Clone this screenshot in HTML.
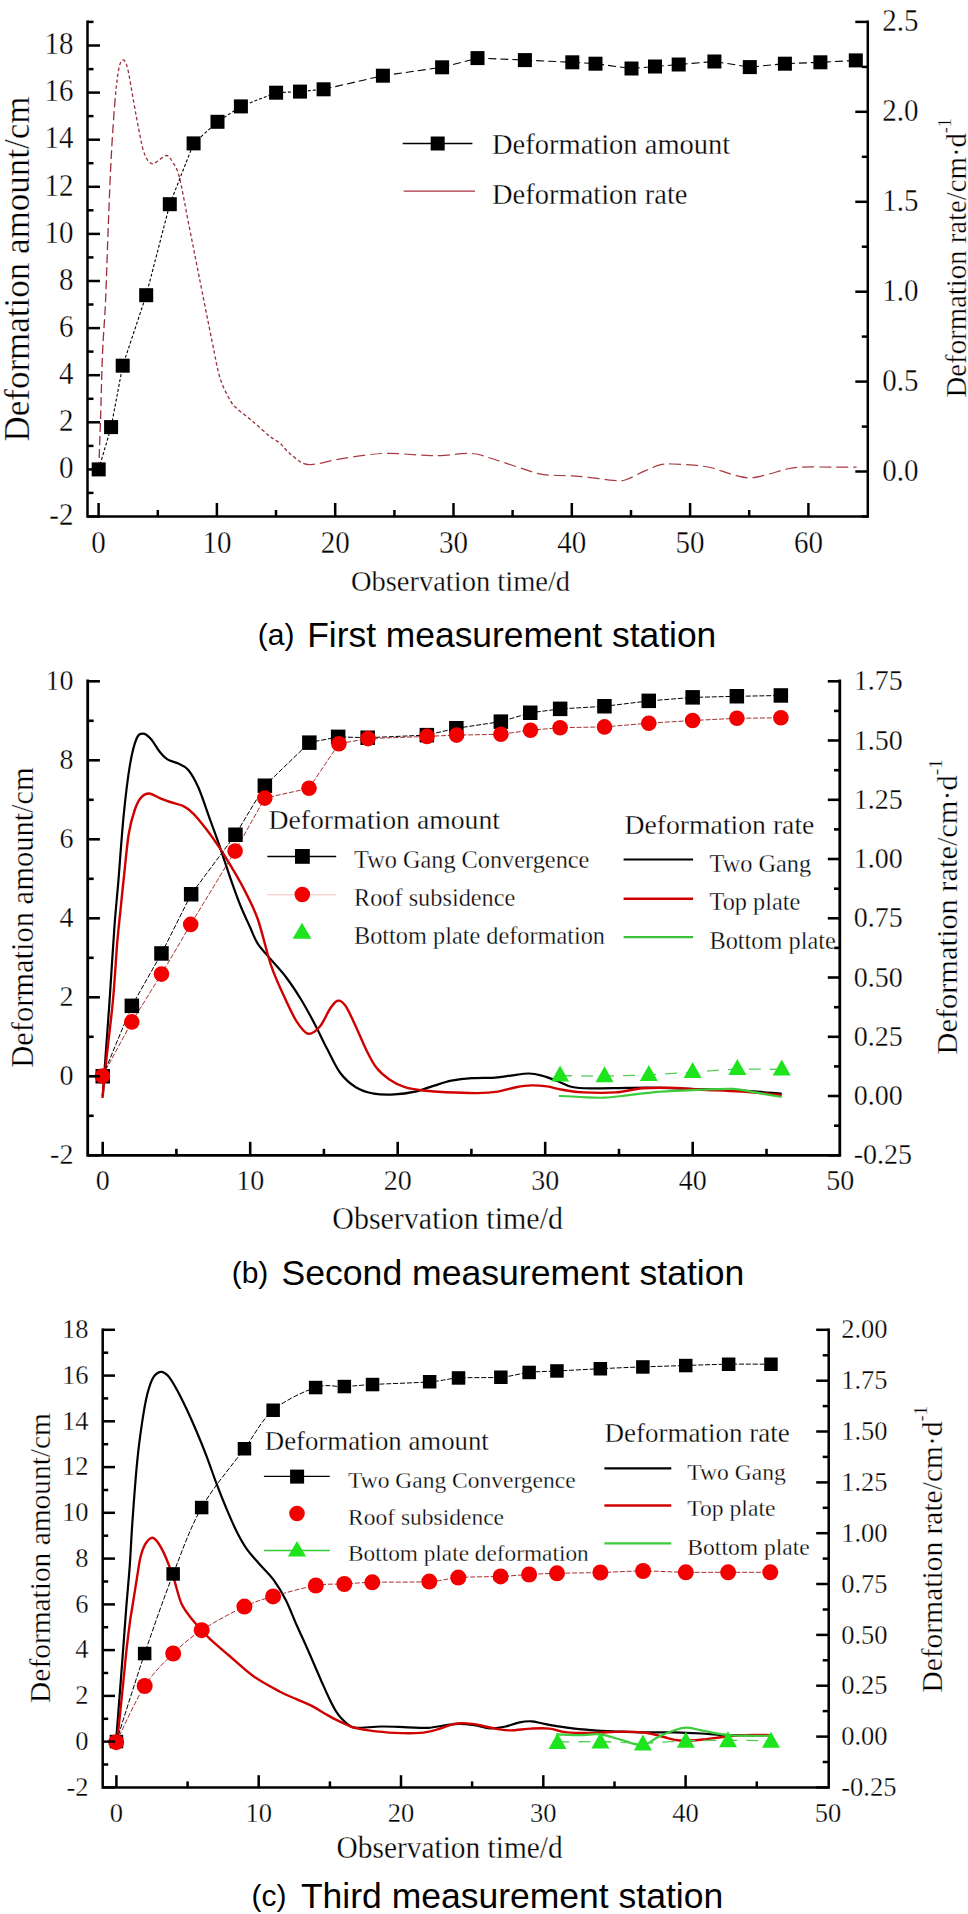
<!DOCTYPE html>
<html><head><meta charset="utf-8"><style>html,body{margin:0;padding:0;background:#fff;}svg{display:block}text.t{stroke:#fff;stroke-width:0.3px;}</style></head>
<body><svg width="968" height="1914" viewBox="0 0 968 1914">
<rect width="968" height="1914" fill="#fff"/>
<path d="M98.7,471.0 C99.0,462.5 99.9,439.5 100.5,420.0 C101.1,400.5 101.7,374.0 102.5,354.0 C103.3,334.0 104.6,322.3 105.6,300.0 C106.6,277.7 107.5,244.7 108.5,220.0 C109.5,195.3 110.3,172.8 111.5,152.0 C112.7,131.2 114.2,109.0 115.5,95.0" fill="none" stroke="#9a3039" stroke-width="1.30" stroke-dasharray="9,4" stroke-linejoin="round" />
<path d="M115.5,95.0 C116.8,81.0 117.8,73.8 119.0,68.0 C120.2,62.2 121.6,60.0 123.0,60.0 C124.4,60.0 125.7,60.9 127.5,68.0 C129.3,75.1 132.0,92.6 133.8,102.6 C135.6,112.6 137.0,120.3 138.5,128.0 C140.0,135.7 141.4,143.7 142.9,149.0 C144.4,154.3 145.8,157.5 147.5,160.0 C149.2,162.5 150.9,163.8 152.8,163.8 C154.7,163.8 156.7,161.4 159.0,160.0 C161.3,158.6 164.7,155.2 166.9,155.5 C169.2,155.8 170.4,158.4 172.5,162.0 C174.6,165.6 176.5,166.2 179.3,177.0 C182.1,187.8 185.9,210.1 189.2,226.6 C192.5,243.1 195.2,256.9 199.0,276.0 C202.8,295.1 208.5,323.9 212.0,341.0 C215.5,358.1 217.1,368.5 220.2,378.5 C223.3,388.5 227.8,396.0 230.6,401.0 C233.4,406.0 233.0,405.0 236.8,408.5 C240.6,412.0 247.8,417.2 253.3,421.9 C258.8,426.5 265.4,432.8 269.8,436.4 C274.2,439.9 277.0,440.6 280.0,443.2 C283.0,445.8 284.1,448.5 288.0,451.9 C291.9,455.3 298.6,461.4 303.2,463.4" fill="none" stroke="#9a3039" stroke-width="1.30" stroke-dasharray="3.5,2.5" stroke-linejoin="round" />
<path d="M303.2,463.4 C307.8,465.4 309.1,464.8 315.6,464.0 C322.1,463.2 330.9,460.4 342.0,458.7 C353.1,456.9 369.4,454.1 382.3,453.5 C395.2,452.9 409.7,454.6 419.5,455.0 C429.3,455.4 432.2,455.9 441.0,455.6 C449.8,455.4 462.7,452.7 472.0,453.5 C481.3,454.3 486.1,457.0 497.0,460.3 C507.9,463.6 527.9,470.8 537.2,473.3 C546.5,475.8 547.2,474.8 552.7,475.2 C558.2,475.6 564.0,475.4 570.0,475.8 C576.0,476.2 581.4,476.5 588.6,477.3 C595.8,478.1 607.2,480.0 613.4,480.4 C619.6,480.8 620.6,481.4 625.8,479.8 C631.0,478.2 638.7,473.6 644.4,471.1 C650.1,468.6 655.2,466.1 659.9,464.9 C664.5,463.7 666.6,463.9 672.3,464.0 C678.0,464.1 687.3,464.5 694.0,465.2 C700.7,465.9 706.3,466.5 712.5,468.0 C718.7,469.5 724.9,472.6 731.1,474.2 C737.3,475.8 743.5,477.9 749.7,477.9 C755.9,477.9 762.1,475.7 768.3,474.2 C774.5,472.7 781.2,470.2 786.9,469.0 C792.6,467.8 794.6,467.4 802.4,467.1 C810.1,466.8 824.4,467.1 833.4,467.1 C842.4,467.1 852.7,467.1 856.6,467.1" fill="none" stroke="#a83a40" stroke-width="1.20" stroke-dasharray="12,5" stroke-linejoin="round" />
<path d="M98.7,469.4 L111.1,427.1 L122.7,365.7 L146.2,295.2 L169.8,204.2 L193.6,143.4 L217.5,121.8 L240.9,106.4 L276.1,92.7 L300.0,91.6 L323.6,89.3" fill="none" stroke="#000" stroke-width="1.10" stroke-dasharray="3,2" stroke-linejoin="round" />
<path d="M323.6,89.3 L382.9,75.7 L442.1,67.3 L477.5,58.1 L524.9,60.1 L572.3,62.3 L595.5,63.7 L631.5,68.5 L655.0,66.5 L678.7,64.5 L714.4,61.5 L749.8,67.1 L784.9,63.7 L820.4,62.3 L855.8,60.4" fill="none" stroke="#000" stroke-width="1.10" stroke-dasharray="8,4" stroke-linejoin="round" />
<rect x="91.7" y="462.4" width="14.0" height="14.0" fill="#000"/>
<rect x="104.1" y="420.1" width="14.0" height="14.0" fill="#000"/>
<rect x="115.7" y="358.7" width="14.0" height="14.0" fill="#000"/>
<rect x="139.2" y="288.2" width="14.0" height="14.0" fill="#000"/>
<rect x="162.8" y="197.2" width="14.0" height="14.0" fill="#000"/>
<rect x="186.6" y="136.4" width="14.0" height="14.0" fill="#000"/>
<rect x="210.5" y="114.8" width="14.0" height="14.0" fill="#000"/>
<rect x="233.9" y="99.4" width="14.0" height="14.0" fill="#000"/>
<rect x="269.1" y="85.7" width="14.0" height="14.0" fill="#000"/>
<rect x="293.0" y="84.6" width="14.0" height="14.0" fill="#000"/>
<rect x="316.6" y="82.3" width="14.0" height="14.0" fill="#000"/>
<rect x="375.9" y="68.7" width="14.0" height="14.0" fill="#000"/>
<rect x="435.1" y="60.3" width="14.0" height="14.0" fill="#000"/>
<rect x="470.5" y="51.1" width="14.0" height="14.0" fill="#000"/>
<rect x="517.9" y="53.1" width="14.0" height="14.0" fill="#000"/>
<rect x="565.3" y="55.3" width="14.0" height="14.0" fill="#000"/>
<rect x="588.5" y="56.7" width="14.0" height="14.0" fill="#000"/>
<rect x="624.5" y="61.5" width="14.0" height="14.0" fill="#000"/>
<rect x="648.0" y="59.5" width="14.0" height="14.0" fill="#000"/>
<rect x="671.7" y="57.5" width="14.0" height="14.0" fill="#000"/>
<rect x="707.4" y="54.5" width="14.0" height="14.0" fill="#000"/>
<rect x="742.8" y="60.1" width="14.0" height="14.0" fill="#000"/>
<rect x="777.9" y="56.7" width="14.0" height="14.0" fill="#000"/>
<rect x="813.4" y="55.3" width="14.0" height="14.0" fill="#000"/>
<rect x="848.8" y="53.4" width="14.0" height="14.0" fill="#000"/>
<path d="M87.5,21.8 L87.5,516.5 L867.8,516.5 L867.8,21.8" fill="none" stroke="#000" stroke-width="2.5" stroke-linejoin="miter" stroke-linecap="square"/>
<line x1="87.5" y1="516.5" x2="100.0" y2="516.5" stroke="#000" stroke-width="2.5"/>
<line x1="87.5" y1="492.9" x2="93.5" y2="492.9" stroke="#000" stroke-width="2.5"/>
<line x1="87.5" y1="469.4" x2="100.0" y2="469.4" stroke="#000" stroke-width="2.5"/>
<line x1="87.5" y1="445.9" x2="93.5" y2="445.9" stroke="#000" stroke-width="2.5"/>
<line x1="87.5" y1="422.3" x2="100.0" y2="422.3" stroke="#000" stroke-width="2.5"/>
<line x1="87.5" y1="398.8" x2="93.5" y2="398.8" stroke="#000" stroke-width="2.5"/>
<line x1="87.5" y1="375.2" x2="100.0" y2="375.2" stroke="#000" stroke-width="2.5"/>
<line x1="87.5" y1="351.6" x2="93.5" y2="351.6" stroke="#000" stroke-width="2.5"/>
<line x1="87.5" y1="328.1" x2="100.0" y2="328.1" stroke="#000" stroke-width="2.5"/>
<line x1="87.5" y1="304.5" x2="93.5" y2="304.5" stroke="#000" stroke-width="2.5"/>
<line x1="87.5" y1="281.0" x2="100.0" y2="281.0" stroke="#000" stroke-width="2.5"/>
<line x1="87.5" y1="257.4" x2="93.5" y2="257.4" stroke="#000" stroke-width="2.5"/>
<line x1="87.5" y1="233.9" x2="100.0" y2="233.9" stroke="#000" stroke-width="2.5"/>
<line x1="87.5" y1="210.3" x2="93.5" y2="210.3" stroke="#000" stroke-width="2.5"/>
<line x1="87.5" y1="186.8" x2="100.0" y2="186.8" stroke="#000" stroke-width="2.5"/>
<line x1="87.5" y1="163.2" x2="93.5" y2="163.2" stroke="#000" stroke-width="2.5"/>
<line x1="87.5" y1="139.7" x2="100.0" y2="139.7" stroke="#000" stroke-width="2.5"/>
<line x1="87.5" y1="116.1" x2="93.5" y2="116.1" stroke="#000" stroke-width="2.5"/>
<line x1="87.5" y1="92.6" x2="100.0" y2="92.6" stroke="#000" stroke-width="2.5"/>
<line x1="87.5" y1="69.1" x2="93.5" y2="69.1" stroke="#000" stroke-width="2.5"/>
<line x1="87.5" y1="45.5" x2="100.0" y2="45.5" stroke="#000" stroke-width="2.5"/>
<line x1="87.5" y1="21.9" x2="93.5" y2="21.9" stroke="#000" stroke-width="2.5"/>
<line x1="867.8" y1="516.5" x2="861.8" y2="516.5" stroke="#000" stroke-width="2.5"/>
<line x1="867.8" y1="471.5" x2="855.3" y2="471.5" stroke="#000" stroke-width="2.5"/>
<line x1="867.8" y1="426.6" x2="861.8" y2="426.6" stroke="#000" stroke-width="2.5"/>
<line x1="867.8" y1="381.6" x2="855.3" y2="381.6" stroke="#000" stroke-width="2.5"/>
<line x1="867.8" y1="336.6" x2="861.8" y2="336.6" stroke="#000" stroke-width="2.5"/>
<line x1="867.8" y1="291.7" x2="855.3" y2="291.7" stroke="#000" stroke-width="2.5"/>
<line x1="867.8" y1="246.7" x2="861.8" y2="246.7" stroke="#000" stroke-width="2.5"/>
<line x1="867.8" y1="201.8" x2="855.3" y2="201.8" stroke="#000" stroke-width="2.5"/>
<line x1="867.8" y1="156.8" x2="861.8" y2="156.8" stroke="#000" stroke-width="2.5"/>
<line x1="867.8" y1="111.8" x2="855.3" y2="111.8" stroke="#000" stroke-width="2.5"/>
<line x1="867.8" y1="66.9" x2="861.8" y2="66.9" stroke="#000" stroke-width="2.5"/>
<line x1="867.8" y1="21.9" x2="855.3" y2="21.9" stroke="#000" stroke-width="2.5"/>
<line x1="98.6" y1="516.5" x2="98.6" y2="503.0" stroke="#000" stroke-width="2.5"/>
<line x1="157.8" y1="516.5" x2="157.8" y2="510.0" stroke="#000" stroke-width="2.5"/>
<line x1="216.9" y1="516.5" x2="216.9" y2="503.0" stroke="#000" stroke-width="2.5"/>
<line x1="276.0" y1="516.5" x2="276.0" y2="510.0" stroke="#000" stroke-width="2.5"/>
<line x1="335.2" y1="516.5" x2="335.2" y2="503.0" stroke="#000" stroke-width="2.5"/>
<line x1="394.4" y1="516.5" x2="394.4" y2="510.0" stroke="#000" stroke-width="2.5"/>
<line x1="453.5" y1="516.5" x2="453.5" y2="503.0" stroke="#000" stroke-width="2.5"/>
<line x1="512.6" y1="516.5" x2="512.6" y2="510.0" stroke="#000" stroke-width="2.5"/>
<line x1="571.8" y1="516.5" x2="571.8" y2="503.0" stroke="#000" stroke-width="2.5"/>
<line x1="631.0" y1="516.5" x2="631.0" y2="510.0" stroke="#000" stroke-width="2.5"/>
<line x1="690.1" y1="516.5" x2="690.1" y2="503.0" stroke="#000" stroke-width="2.5"/>
<line x1="749.2" y1="516.5" x2="749.2" y2="510.0" stroke="#000" stroke-width="2.5"/>
<line x1="808.4" y1="516.5" x2="808.4" y2="503.0" stroke="#000" stroke-width="2.5"/>
<text class="t" transform="translate(73.4,525.2) scale(1,1.070)" font-size="29.0" text-anchor="end" font-family="Liberation Serif, serif" >-2</text>
<text class="t" transform="translate(73.4,478.1) scale(1,1.070)" font-size="29.0" text-anchor="end" font-family="Liberation Serif, serif" >0</text>
<text class="t" transform="translate(73.4,431.0) scale(1,1.070)" font-size="29.0" text-anchor="end" font-family="Liberation Serif, serif" >2</text>
<text class="t" transform="translate(73.4,383.9) scale(1,1.070)" font-size="29.0" text-anchor="end" font-family="Liberation Serif, serif" >4</text>
<text class="t" transform="translate(73.4,336.8) scale(1,1.070)" font-size="29.0" text-anchor="end" font-family="Liberation Serif, serif" >6</text>
<text class="t" transform="translate(73.4,289.7) scale(1,1.070)" font-size="29.0" text-anchor="end" font-family="Liberation Serif, serif" >8</text>
<text class="t" transform="translate(73.4,242.6) scale(1,1.070)" font-size="29.0" text-anchor="end" font-family="Liberation Serif, serif" >10</text>
<text class="t" transform="translate(73.4,195.5) scale(1,1.070)" font-size="29.0" text-anchor="end" font-family="Liberation Serif, serif" >12</text>
<text class="t" transform="translate(73.4,148.4) scale(1,1.070)" font-size="29.0" text-anchor="end" font-family="Liberation Serif, serif" >14</text>
<text class="t" transform="translate(73.4,101.3) scale(1,1.070)" font-size="29.0" text-anchor="end" font-family="Liberation Serif, serif" >16</text>
<text class="t" transform="translate(73.4,54.2) scale(1,1.070)" font-size="29.0" text-anchor="end" font-family="Liberation Serif, serif" >18</text>
<text class="t" transform="translate(882.3,481.0) scale(1,1.070)" font-size="29.0" text-anchor="start" font-family="Liberation Serif, serif" >0.0</text>
<text class="t" transform="translate(882.3,391.0) scale(1,1.070)" font-size="29.0" text-anchor="start" font-family="Liberation Serif, serif" >0.5</text>
<text class="t" transform="translate(882.3,301.1) scale(1,1.070)" font-size="29.0" text-anchor="start" font-family="Liberation Serif, serif" >1.0</text>
<text class="t" transform="translate(882.3,211.2) scale(1,1.070)" font-size="29.0" text-anchor="start" font-family="Liberation Serif, serif" >1.5</text>
<text class="t" transform="translate(882.3,121.3) scale(1,1.070)" font-size="29.0" text-anchor="start" font-family="Liberation Serif, serif" >2.0</text>
<text class="t" transform="translate(882.3,31.3) scale(1,1.070)" font-size="29.0" text-anchor="start" font-family="Liberation Serif, serif" >2.5</text>
<text class="t" transform="translate(98.6,553.0) scale(1,1.070)" font-size="29.0" text-anchor="middle" font-family="Liberation Serif, serif" >0</text>
<text class="t" transform="translate(216.9,553.0) scale(1,1.070)" font-size="29.0" text-anchor="middle" font-family="Liberation Serif, serif" >10</text>
<text class="t" transform="translate(335.2,553.0) scale(1,1.070)" font-size="29.0" text-anchor="middle" font-family="Liberation Serif, serif" >20</text>
<text class="t" transform="translate(453.5,553.0) scale(1,1.070)" font-size="29.0" text-anchor="middle" font-family="Liberation Serif, serif" >30</text>
<text class="t" transform="translate(571.8,553.0) scale(1,1.070)" font-size="29.0" text-anchor="middle" font-family="Liberation Serif, serif" >40</text>
<text class="t" transform="translate(690.1,553.0) scale(1,1.070)" font-size="29.0" text-anchor="middle" font-family="Liberation Serif, serif" >50</text>
<text class="t" transform="translate(808.4,553.0) scale(1,1.070)" font-size="29.0" text-anchor="middle" font-family="Liberation Serif, serif" >60</text>
<text class="t" transform="translate(460.5,590.8) scale(1,1.060)" font-size="28.5" text-anchor="middle" font-family="Liberation Serif, serif" >Observation time/d</text>
<text class="t" transform="translate(29.0,269.0) rotate(-90)" font-size="35.0" text-anchor="middle" font-family="Liberation Serif, serif">Deformation amount/cm</text>
<text class="t" transform="translate(965.5,397.4) rotate(-90)" font-size="28.75" text-anchor="start" font-family="Liberation Serif, serif">Deformation rate/cm&#183;d<tspan font-size="18" dy="-15">-1</tspan></text>
<path d="M402.7,143.5 L472.4,143.5" fill="none" stroke="#000" stroke-width="1.30" stroke-linejoin="round" />
<rect x="430.7" y="136.5" width="14.0" height="14.0" fill="#000"/>
<path d="M403.7,191.2 L475,191.2" fill="none" stroke="#a8323a" stroke-width="1.30" stroke-linejoin="round" />
<text class="t" x="492.0" y="154.3" font-size="28.5" text-anchor="start" font-family="Liberation Serif, serif" >Deformation amount</text>
<text class="t" x="492.0" y="203.9" font-size="28.5" text-anchor="start" font-family="Liberation Serif, serif" >Deformation rate</text>
<text x="257.8" y="645.2" font-size="30.0" text-anchor="start" font-family="Liberation Sans, sans-serif" >(a)</text>
<text x="307.2" y="646.6" font-size="35.4" text-anchor="start" font-family="Liberation Sans, sans-serif" >First measurement station</text>
<path d="M102.7,1096.0 C103.2,1088.3 104.9,1065.5 106.0,1050.0 C107.1,1034.5 108.0,1024.0 109.4,1003.3 C110.8,982.6 113.0,946.2 114.5,925.8 C116.0,905.4 116.9,899.1 118.4,880.8 C119.9,862.5 121.7,835.6 123.6,816.2 C125.5,796.8 127.8,777.5 130.0,764.6 C132.2,751.7 134.3,743.9 136.5,738.7 C138.7,733.5 140.6,733.6 143.0,733.6 C145.4,733.6 147.9,735.7 150.7,738.7 C153.5,741.7 156.9,748.2 159.7,751.7 C162.5,755.2 164.5,757.5 167.5,759.4 C170.5,761.3 174.4,761.6 177.8,763.3 C181.2,765.0 184.7,765.6 188.1,769.7 C191.5,773.8 195.1,780.0 198.5,787.8 C201.9,795.5 205.4,806.7 208.8,816.2 C212.2,825.7 215.7,834.7 219.1,844.6 C222.5,854.5 226.1,865.7 229.5,875.6 C232.9,885.5 236.4,895.4 239.8,904.0 C243.2,912.6 247.1,920.6 250.1,927.3 C253.1,933.9 254.4,938.5 257.9,943.9 C261.3,949.2 266.1,953.8 270.8,959.4 C275.5,965.0 281.1,970.6 286.3,977.5 C291.5,984.4 297.1,993.0 301.8,1000.7 C306.5,1008.5 310.4,1015.8 314.7,1024.0 C319.0,1032.2 323.3,1041.6 327.6,1049.8 C331.9,1058.0 335.6,1066.8 340.3,1073.0 C345.0,1079.2 350.2,1083.8 355.8,1087.2 C361.4,1090.6 367.4,1092.4 373.9,1093.6 C380.4,1094.8 387.7,1094.7 394.6,1094.4 C401.5,1094.1 408.8,1093.0 415.2,1091.6 C421.6,1090.2 427.3,1087.7 433.3,1085.9 C439.3,1084.1 444.9,1082.0 451.4,1080.7 C457.8,1079.4 464.7,1078.6 472.0,1078.1 C479.3,1077.6 488.8,1078.0 495.3,1077.6 C501.8,1077.2 505.2,1076.3 510.8,1075.6 C516.4,1074.9 523.7,1073.5 528.9,1073.5 C534.1,1073.5 537.1,1074.3 541.8,1075.6 C546.5,1076.8 552.2,1079.1 557.3,1081.0 C562.4,1082.9 566.6,1085.8 572.2,1087.0 C577.8,1088.2 581.6,1088.2 591.0,1088.3 C600.4,1088.4 617.0,1087.9 628.6,1087.8 C640.2,1087.7 648.8,1087.6 660.9,1087.8 C673.0,1088.0 687.8,1088.8 701.2,1089.2 C714.6,1089.7 728.1,1089.8 741.5,1090.5 C754.9,1091.2 775.0,1093.2 781.7,1093.7" fill="none" stroke="#000" stroke-width="2.20" stroke-linejoin="round" />
<path d="M102.5,1098.0 C103.1,1091.7 104.5,1076.3 106.3,1060.0 C108.0,1043.7 111.2,1019.5 113.0,1000.0 C114.8,980.5 116.0,957.7 117.2,942.7 C118.5,927.7 119.4,920.5 120.5,910.0 C121.6,899.5 122.2,892.6 123.6,880.0 C125.0,867.4 126.8,846.2 128.7,834.3 C130.6,822.4 133.0,814.8 135.2,808.5 C137.4,802.2 139.3,799.3 141.7,796.8 C144.1,794.3 146.4,793.3 149.4,793.5 C152.4,793.7 156.2,796.7 159.7,798.1 C163.1,799.5 166.2,800.7 170.1,802.0 C174.0,803.3 179.1,804.0 183.0,805.9 C186.9,807.8 189.4,809.7 193.3,813.6 C197.2,817.5 201.9,823.5 206.2,829.1 C210.5,834.7 214.8,840.7 219.1,847.2 C223.4,853.7 227.7,860.6 232.0,867.9 C236.3,875.2 240.7,882.5 245.0,891.1 C249.3,899.7 253.6,907.2 257.9,919.5 C262.2,931.8 266.5,951.9 270.8,964.6 C275.1,977.3 279.4,986.1 283.7,995.6 C288.0,1005.1 292.5,1015.0 296.6,1021.4 C300.7,1027.8 304.3,1033.0 308.2,1033.8 C312.1,1034.6 316.2,1030.7 319.9,1026.5 C323.6,1022.3 327.2,1012.8 330.2,1008.5 C333.2,1004.2 335.1,1001.2 337.7,1000.7 C340.2,1000.2 342.5,1001.5 345.5,1005.8 C348.5,1010.1 352.4,1019.2 355.8,1026.5 C359.2,1033.8 362.8,1042.8 366.2,1049.7 C369.6,1056.6 372.6,1062.8 376.5,1067.8 C380.4,1072.8 384.7,1076.2 389.4,1079.4 C394.1,1082.6 399.3,1085.4 404.9,1087.2 C410.5,1089.0 416.1,1089.7 423.0,1090.5 C429.9,1091.3 437.2,1091.9 446.2,1092.3 C455.2,1092.7 468.6,1093.2 477.2,1093.1 C485.8,1093.0 491.4,1092.6 497.9,1091.6 C504.4,1090.6 510.4,1088.2 516.0,1087.2 C521.6,1086.2 526.2,1085.5 531.4,1085.4 C536.5,1085.3 541.7,1085.7 546.9,1086.4 C552.1,1087.1 556.4,1088.8 562.4,1089.8 C568.4,1090.8 574.2,1092.0 583.0,1092.4 C591.8,1092.8 605.4,1093.1 615.2,1092.4 C625.1,1091.7 633.2,1089.1 642.1,1088.3 C651.0,1087.5 659.0,1087.6 668.9,1087.8 C678.8,1088.0 689.1,1089.1 701.2,1089.7 C713.3,1090.3 728.1,1090.7 741.5,1091.6 C754.9,1092.5 775.0,1094.4 781.7,1095.0" fill="none" stroke="#d00000" stroke-width="2.40" stroke-linejoin="round" />
<path d="M558.8,1095.9 C562.4,1096.1 572.7,1096.7 580.3,1097.0 C587.9,1097.3 596.5,1098.0 604.5,1097.7 C612.5,1097.4 619.2,1096.1 628.6,1095.1 C638.0,1094.1 648.8,1092.5 660.9,1091.6 C673.0,1090.7 689.1,1090.2 701.2,1089.7 C713.3,1089.2 724.5,1088.5 733.4,1088.9 C742.3,1089.4 746.8,1091.1 754.9,1092.4 C763.0,1093.8 777.2,1096.2 781.7,1097.0" fill="none" stroke="#3ccc3c" stroke-width="2.20" stroke-linejoin="round" />
<path d="M102.7,1076.3 L131.8,1005.9 L161.5,953.5 L191.2,894.2 L235.4,834.8 L264.8,785.7 L309.4,742.6 L338.1,736.9 L367.7,737.7 L426.8,735.1 L456.3,728.3 L500.9,721.6 L530.2,712.8 L560.1,708.9 L604.5,706.3 L648.8,700.9 L692.6,697.4 L736.9,696.3 L780.9,695.5" fill="none" stroke="#000" stroke-width="1.00" stroke-dasharray="5,1.8" stroke-linejoin="round" />
<path d="M102.4,1076.1 L131.8,1021.9 L161.5,974.1 L190.7,924.4 L235.1,851.1 L264.8,798.1 L309.0,788.3 L338.9,743.7 L368.0,738.6 L427.0,736.4 L456.6,735.1 L500.9,734.3 L530.5,730.2 L560.1,727.7 L604.5,726.9 L648.8,723.2 L692.6,720.5 L736.9,718.3 L780.9,717.8" fill="none" stroke="#a83030" stroke-width="1.00" stroke-dasharray="5,1.8" stroke-linejoin="round" />
<path d="M560.1,1075.6 L604.5,1076.2 L648.8,1075.0 L692.6,1072.1 L737.4,1068.9 L781.7,1069.4" fill="none" stroke="#55cc55" stroke-width="1.30" stroke-dasharray="12,9" stroke-linejoin="round" />
<rect x="95.5" y="1069.0" width="14.5" height="14.5" fill="#000"/>
<rect x="124.6" y="998.6" width="14.5" height="14.5" fill="#000"/>
<rect x="154.2" y="946.2" width="14.5" height="14.5" fill="#000"/>
<rect x="183.9" y="887.0" width="14.5" height="14.5" fill="#000"/>
<rect x="228.2" y="827.5" width="14.5" height="14.5" fill="#000"/>
<rect x="257.6" y="778.5" width="14.5" height="14.5" fill="#000"/>
<rect x="302.1" y="735.4" width="14.5" height="14.5" fill="#000"/>
<rect x="330.9" y="729.6" width="14.5" height="14.5" fill="#000"/>
<rect x="360.4" y="730.5" width="14.5" height="14.5" fill="#000"/>
<rect x="419.6" y="727.9" width="14.5" height="14.5" fill="#000"/>
<rect x="449.1" y="721.0" width="14.5" height="14.5" fill="#000"/>
<rect x="493.6" y="714.4" width="14.5" height="14.5" fill="#000"/>
<rect x="523.0" y="705.5" width="14.5" height="14.5" fill="#000"/>
<rect x="552.9" y="701.6" width="14.5" height="14.5" fill="#000"/>
<rect x="597.2" y="699.0" width="14.5" height="14.5" fill="#000"/>
<rect x="641.5" y="693.6" width="14.5" height="14.5" fill="#000"/>
<rect x="685.4" y="690.1" width="14.5" height="14.5" fill="#000"/>
<rect x="729.6" y="689.0" width="14.5" height="14.5" fill="#000"/>
<rect x="773.6" y="688.2" width="14.5" height="14.5" fill="#000"/>
<circle cx="102.4" cy="1076.1" r="7.8" fill="#f20000"/>
<circle cx="131.8" cy="1021.9" r="7.8" fill="#f20000"/>
<circle cx="161.5" cy="974.1" r="7.8" fill="#f20000"/>
<circle cx="190.7" cy="924.4" r="7.8" fill="#f20000"/>
<circle cx="235.1" cy="851.1" r="7.8" fill="#f20000"/>
<circle cx="264.8" cy="798.1" r="7.8" fill="#f20000"/>
<circle cx="309.0" cy="788.3" r="7.8" fill="#f20000"/>
<circle cx="338.9" cy="743.7" r="7.8" fill="#f20000"/>
<circle cx="368.0" cy="738.6" r="7.8" fill="#f20000"/>
<circle cx="427.0" cy="736.4" r="7.8" fill="#f20000"/>
<circle cx="456.6" cy="735.1" r="7.8" fill="#f20000"/>
<circle cx="500.9" cy="734.3" r="7.8" fill="#f20000"/>
<circle cx="530.5" cy="730.2" r="7.8" fill="#f20000"/>
<circle cx="560.1" cy="727.7" r="7.8" fill="#f20000"/>
<circle cx="604.5" cy="726.9" r="7.8" fill="#f20000"/>
<circle cx="648.8" cy="723.2" r="7.8" fill="#f20000"/>
<circle cx="692.6" cy="720.5" r="7.8" fill="#f20000"/>
<circle cx="736.9" cy="718.3" r="7.8" fill="#f20000"/>
<circle cx="780.9" cy="717.8" r="7.8" fill="#f20000"/>
<path d="M560.1,1065.6 L569.1,1081.6 L551.1,1081.6 Z" fill="#1ee41e"/>
<path d="M604.5,1066.2 L613.5,1082.2 L595.5,1082.2 Z" fill="#1ee41e"/>
<path d="M648.8,1065.0 L657.8,1081.0 L639.8,1081.0 Z" fill="#1ee41e"/>
<path d="M692.6,1062.1 L701.6,1078.1 L683.6,1078.1 Z" fill="#1ee41e"/>
<path d="M737.4,1058.9 L746.4,1074.9 L728.4,1074.9 Z" fill="#1ee41e"/>
<path d="M781.7,1059.4 L790.7,1075.4 L772.7,1075.4 Z" fill="#1ee41e"/>
<path d="M87.7,681.0 L87.7,1155.3 L839.8,1155.3 L839.8,681.0" fill="none" stroke="#000" stroke-width="2.8" stroke-linejoin="miter" stroke-linecap="square"/>
<line x1="87.7" y1="1155.3" x2="99.9" y2="1155.3" stroke="#000" stroke-width="2.6"/>
<line x1="87.7" y1="1115.8" x2="93.7" y2="1115.8" stroke="#000" stroke-width="2.6"/>
<line x1="87.7" y1="1076.3" x2="99.9" y2="1076.3" stroke="#000" stroke-width="2.6"/>
<line x1="87.7" y1="1036.8" x2="93.7" y2="1036.8" stroke="#000" stroke-width="2.6"/>
<line x1="87.7" y1="997.3" x2="99.9" y2="997.3" stroke="#000" stroke-width="2.6"/>
<line x1="87.7" y1="957.8" x2="93.7" y2="957.8" stroke="#000" stroke-width="2.6"/>
<line x1="87.7" y1="918.3" x2="99.9" y2="918.3" stroke="#000" stroke-width="2.6"/>
<line x1="87.7" y1="878.8" x2="93.7" y2="878.8" stroke="#000" stroke-width="2.6"/>
<line x1="87.7" y1="839.3" x2="99.9" y2="839.3" stroke="#000" stroke-width="2.6"/>
<line x1="87.7" y1="799.8" x2="93.7" y2="799.8" stroke="#000" stroke-width="2.6"/>
<line x1="87.7" y1="760.3" x2="99.9" y2="760.3" stroke="#000" stroke-width="2.6"/>
<line x1="87.7" y1="720.8" x2="93.7" y2="720.8" stroke="#000" stroke-width="2.6"/>
<line x1="87.7" y1="681.3" x2="99.9" y2="681.3" stroke="#000" stroke-width="2.6"/>
<line x1="839.8" y1="1155.3" x2="827.8" y2="1155.3" stroke="#000" stroke-width="2.6"/>
<line x1="839.8" y1="1125.7" x2="834.0" y2="1125.7" stroke="#000" stroke-width="2.6"/>
<line x1="839.8" y1="1096.0" x2="827.8" y2="1096.0" stroke="#000" stroke-width="2.6"/>
<line x1="839.8" y1="1066.4" x2="834.0" y2="1066.4" stroke="#000" stroke-width="2.6"/>
<line x1="839.8" y1="1036.8" x2="827.8" y2="1036.8" stroke="#000" stroke-width="2.6"/>
<line x1="839.8" y1="1007.2" x2="834.0" y2="1007.2" stroke="#000" stroke-width="2.6"/>
<line x1="839.8" y1="977.5" x2="827.8" y2="977.5" stroke="#000" stroke-width="2.6"/>
<line x1="839.8" y1="947.9" x2="834.0" y2="947.9" stroke="#000" stroke-width="2.6"/>
<line x1="839.8" y1="918.3" x2="827.8" y2="918.3" stroke="#000" stroke-width="2.6"/>
<line x1="839.8" y1="888.7" x2="834.0" y2="888.7" stroke="#000" stroke-width="2.6"/>
<line x1="839.8" y1="859.0" x2="827.8" y2="859.0" stroke="#000" stroke-width="2.6"/>
<line x1="839.8" y1="829.4" x2="834.0" y2="829.4" stroke="#000" stroke-width="2.6"/>
<line x1="839.8" y1="799.8" x2="827.8" y2="799.8" stroke="#000" stroke-width="2.6"/>
<line x1="839.8" y1="770.2" x2="834.0" y2="770.2" stroke="#000" stroke-width="2.6"/>
<line x1="839.8" y1="740.5" x2="827.8" y2="740.5" stroke="#000" stroke-width="2.6"/>
<line x1="839.8" y1="710.9" x2="834.0" y2="710.9" stroke="#000" stroke-width="2.6"/>
<line x1="839.8" y1="681.3" x2="827.8" y2="681.3" stroke="#000" stroke-width="2.6"/>
<line x1="102.7" y1="1155.3" x2="102.7" y2="1141.8" stroke="#000" stroke-width="2.6"/>
<line x1="176.4" y1="1155.3" x2="176.4" y2="1148.8" stroke="#000" stroke-width="2.6"/>
<line x1="250.2" y1="1155.3" x2="250.2" y2="1141.8" stroke="#000" stroke-width="2.6"/>
<line x1="323.9" y1="1155.3" x2="323.9" y2="1148.8" stroke="#000" stroke-width="2.6"/>
<line x1="397.7" y1="1155.3" x2="397.7" y2="1141.8" stroke="#000" stroke-width="2.6"/>
<line x1="471.4" y1="1155.3" x2="471.4" y2="1148.8" stroke="#000" stroke-width="2.6"/>
<line x1="545.2" y1="1155.3" x2="545.2" y2="1141.8" stroke="#000" stroke-width="2.6"/>
<line x1="619.0" y1="1155.3" x2="619.0" y2="1148.8" stroke="#000" stroke-width="2.6"/>
<line x1="692.7" y1="1155.3" x2="692.7" y2="1141.8" stroke="#000" stroke-width="2.6"/>
<line x1="766.5" y1="1155.3" x2="766.5" y2="1148.8" stroke="#000" stroke-width="2.6"/>
<text class="t" transform="translate(73.4,1163.5) scale(1,1.070)" font-size="28.0" text-anchor="end" font-family="Liberation Serif, serif" >-2</text>
<text class="t" transform="translate(73.4,1084.5) scale(1,1.070)" font-size="28.0" text-anchor="end" font-family="Liberation Serif, serif" >0</text>
<text class="t" transform="translate(73.4,1005.5) scale(1,1.070)" font-size="28.0" text-anchor="end" font-family="Liberation Serif, serif" >2</text>
<text class="t" transform="translate(73.4,926.5) scale(1,1.070)" font-size="28.0" text-anchor="end" font-family="Liberation Serif, serif" >4</text>
<text class="t" transform="translate(73.4,847.5) scale(1,1.070)" font-size="28.0" text-anchor="end" font-family="Liberation Serif, serif" >6</text>
<text class="t" transform="translate(73.4,768.5) scale(1,1.070)" font-size="28.0" text-anchor="end" font-family="Liberation Serif, serif" >8</text>
<text class="t" transform="translate(73.4,689.5) scale(1,1.070)" font-size="28.0" text-anchor="end" font-family="Liberation Serif, serif" >10</text>
<text class="t" transform="translate(853.8,1164.4) scale(1,1.070)" font-size="28.0" text-anchor="start" font-family="Liberation Serif, serif" >-0.25</text>
<text class="t" transform="translate(853.8,1105.1) scale(1,1.070)" font-size="28.0" text-anchor="start" font-family="Liberation Serif, serif" >0.00</text>
<text class="t" transform="translate(853.8,1045.9) scale(1,1.070)" font-size="28.0" text-anchor="start" font-family="Liberation Serif, serif" >0.25</text>
<text class="t" transform="translate(853.8,986.6) scale(1,1.070)" font-size="28.0" text-anchor="start" font-family="Liberation Serif, serif" >0.50</text>
<text class="t" transform="translate(853.8,927.4) scale(1,1.070)" font-size="28.0" text-anchor="start" font-family="Liberation Serif, serif" >0.75</text>
<text class="t" transform="translate(853.8,868.1) scale(1,1.070)" font-size="28.0" text-anchor="start" font-family="Liberation Serif, serif" >1.00</text>
<text class="t" transform="translate(853.8,808.9) scale(1,1.070)" font-size="28.0" text-anchor="start" font-family="Liberation Serif, serif" >1.25</text>
<text class="t" transform="translate(853.8,749.6) scale(1,1.070)" font-size="28.0" text-anchor="start" font-family="Liberation Serif, serif" >1.50</text>
<text class="t" transform="translate(853.8,690.4) scale(1,1.070)" font-size="28.0" text-anchor="start" font-family="Liberation Serif, serif" >1.75</text>
<text class="t" transform="translate(102.7,1190.0) scale(1,1.070)" font-size="28.0" text-anchor="middle" font-family="Liberation Serif, serif" >0</text>
<text class="t" transform="translate(250.2,1190.0) scale(1,1.070)" font-size="28.0" text-anchor="middle" font-family="Liberation Serif, serif" >10</text>
<text class="t" transform="translate(397.7,1190.0) scale(1,1.070)" font-size="28.0" text-anchor="middle" font-family="Liberation Serif, serif" >20</text>
<text class="t" transform="translate(545.2,1190.0) scale(1,1.070)" font-size="28.0" text-anchor="middle" font-family="Liberation Serif, serif" >30</text>
<text class="t" transform="translate(692.7,1190.0) scale(1,1.070)" font-size="28.0" text-anchor="middle" font-family="Liberation Serif, serif" >40</text>
<text class="t" transform="translate(840.2,1190.0) scale(1,1.070)" font-size="28.0" text-anchor="middle" font-family="Liberation Serif, serif" >50</text>
<text class="t" transform="translate(447.6,1228.8) scale(1,1.050)" font-size="30.0" text-anchor="middle" font-family="Liberation Serif, serif" >Observation time/d</text>
<text class="t" transform="translate(33.0,917.5) rotate(-90)" font-size="30.5" text-anchor="middle" font-family="Liberation Serif, serif">Deformation amount/cm</text>
<text class="t" transform="translate(957.2,1054.5) rotate(-90)" font-size="30.4" text-anchor="start" font-family="Liberation Serif, serif">Deformation rate/cm&#183;d<tspan font-size="19.5" dy="-15">-1</tspan></text>
<text class="t" x="268.5" y="829.0" font-size="27.7" text-anchor="start" font-family="Liberation Serif, serif" >Deformation amount</text>
<path d="M267.4,856.5 L336.2,856.5" fill="none" stroke="#000" stroke-width="1.30" stroke-linejoin="round" />
<rect x="295.0" y="849.0" width="14.8" height="14.8" fill="#000"/>
<path d="M267.4,894.8 L336.2,894.8" fill="none" stroke="#f2c0c0" stroke-width="1.00" stroke-linejoin="round" />
<circle cx="302.3" cy="894.5" r="7.8" fill="#f20000"/>
<path d="M302.0,922.8 L311.4,938.8 L292.6,938.8 Z" fill="#1ee41e"/>
<text class="t" x="354.0" y="868.0" font-size="24.3" text-anchor="start" font-family="Liberation Serif, serif" >Two Gang Convergence</text>
<text class="t" x="354.0" y="906.0" font-size="24.3" text-anchor="start" font-family="Liberation Serif, serif" >Roof subsidence</text>
<text class="t" x="354.0" y="944.3" font-size="24.3" text-anchor="start" font-family="Liberation Serif, serif" >Bottom plate deformation</text>
<text class="t" x="624.5" y="833.5" font-size="27.7" text-anchor="start" font-family="Liberation Serif, serif" >Deformation rate</text>
<path d="M623.6,859.5 L693.1,859.5" fill="none" stroke="#000" stroke-width="2.20" stroke-linejoin="round" />
<path d="M623.6,898.7 L693.1,898.7" fill="none" stroke="#d00000" stroke-width="2.40" stroke-linejoin="round" />
<path d="M623.6,937.2 L693.1,937.2" fill="none" stroke="#3cc03c" stroke-width="2.20" stroke-linejoin="round" />
<text class="t" x="709.5" y="872.4" font-size="24.3" text-anchor="start" font-family="Liberation Serif, serif" >Two Gang</text>
<text class="t" x="709.5" y="910.3" font-size="24.3" text-anchor="start" font-family="Liberation Serif, serif" >Top plate</text>
<text class="t" x="709.5" y="948.8" font-size="24.3" text-anchor="start" font-family="Liberation Serif, serif" >Bottom plate</text>
<text x="231.7" y="1283.3" font-size="30.0" text-anchor="start" font-family="Liberation Sans, sans-serif" >(b)</text>
<text x="281.5" y="1284.6" font-size="35.6" text-anchor="start" font-family="Liberation Sans, sans-serif" >Second measurement station</text>
<path d="M116.4,1737.0 C116.8,1732.3 117.6,1721.8 118.6,1708.8 C119.6,1695.8 121.2,1675.7 122.4,1659.2 C123.7,1642.7 124.9,1625.3 126.1,1609.6 C127.3,1593.9 128.8,1579.3 129.8,1565.0 C130.8,1550.7 131.1,1540.8 132.3,1523.6 C133.5,1506.4 135.5,1478.5 137.2,1461.6 C138.8,1444.6 140.5,1433.1 142.2,1421.9 C143.9,1410.7 145.3,1402.0 147.2,1394.6 C149.1,1387.2 151.1,1381.1 153.4,1377.3 C155.7,1373.5 158.3,1372.0 160.8,1371.8 C163.3,1371.6 165.5,1373.0 168.2,1376.0 C170.9,1379.0 173.8,1384.1 176.9,1389.7 C180.0,1395.3 183.5,1402.5 186.8,1409.5 C190.1,1416.5 193.4,1424.0 196.7,1431.8 C200.0,1439.6 203.4,1447.9 206.7,1456.6 C210.0,1465.3 213.3,1475.2 216.6,1483.9 C219.9,1492.6 223.2,1500.9 226.5,1508.7 C229.8,1516.5 233.1,1524.4 236.4,1531.0 C239.7,1537.6 242.6,1543.0 246.3,1548.4 C250.0,1553.8 254.1,1558.0 258.7,1563.2 C263.2,1568.4 269.1,1573.7 273.6,1579.8 C278.1,1585.9 282.0,1592.5 285.8,1600.0 C289.6,1607.5 293.3,1617.6 296.5,1624.8 C299.7,1632.0 302.0,1636.8 304.8,1643.0 C307.6,1649.2 310.4,1655.7 313.1,1662.0 C315.9,1668.3 318.6,1674.8 321.3,1681.0 C324.1,1687.2 327.1,1694.1 329.6,1699.2 C332.1,1704.3 334.1,1708.3 336.2,1711.6 C338.3,1714.9 339.9,1716.8 342.0,1719.0 C344.1,1721.2 346.3,1723.3 348.6,1724.8 C350.9,1726.3 350.3,1727.5 355.8,1727.8 C361.3,1728.1 373.1,1726.6 381.7,1726.5 C390.3,1726.4 399.8,1727.1 407.5,1727.3 C415.2,1727.5 421.7,1728.1 428.1,1727.8 C434.6,1727.5 441.0,1725.8 446.2,1725.2 C451.4,1724.6 454.4,1723.9 459.1,1723.9 C463.8,1723.9 469.4,1724.5 474.6,1725.2 C479.8,1725.9 484.9,1728.1 490.1,1728.3 C495.3,1728.5 500.9,1727.5 505.6,1726.5 C510.3,1725.5 514.2,1723.5 518.5,1722.6 C522.8,1721.7 527.1,1721.1 531.4,1721.3 C535.7,1721.5 538.5,1722.9 544.4,1723.9 C550.3,1725.0 558.7,1726.5 566.9,1727.6 C575.1,1728.7 584.8,1729.6 593.7,1730.3 C602.7,1731.0 611.7,1731.2 620.6,1731.6 C629.5,1731.9 638.5,1732.3 647.4,1732.4 C656.3,1732.5 665.3,1732.2 674.3,1732.4 C683.3,1732.6 692.2,1733.0 701.2,1733.5 C710.2,1734.0 716.4,1734.8 728.0,1735.1 C739.6,1735.4 763.8,1735.1 771.0,1735.1" fill="none" stroke="#000" stroke-width="2.20" stroke-linejoin="round" />
<path d="M116.4,1739.0 C116.6,1738.9 116.6,1745.0 117.4,1738.5 C118.2,1732.0 120.3,1711.4 121.5,1700.0 C122.7,1688.6 123.7,1678.5 124.5,1670.0 C125.3,1661.5 125.7,1657.2 126.6,1649.0 C127.5,1640.8 129.1,1628.2 130.1,1620.9 C131.1,1613.6 131.8,1610.4 132.6,1605.2 C133.4,1600.0 134.3,1594.8 135.1,1589.6 C135.9,1584.4 136.7,1579.5 137.6,1573.9 C138.5,1568.4 139.4,1561.2 140.7,1556.3 C141.9,1551.4 143.3,1547.5 145.1,1544.4 C146.9,1541.3 149.7,1538.3 151.7,1537.8 C153.7,1537.3 155.1,1538.9 157.0,1541.3 C158.9,1543.7 161.3,1547.9 163.3,1551.9 C165.3,1555.9 167.1,1560.3 168.9,1565.1 C170.8,1569.9 172.2,1574.0 174.4,1580.6 C176.6,1587.2 178.6,1597.7 181.9,1604.6 C185.2,1611.5 189.8,1616.4 194.3,1622.0 C198.8,1627.6 203.3,1632.5 209.1,1638.1 C214.9,1643.7 221.6,1649.1 229.0,1655.5 C236.4,1661.9 245.3,1670.5 253.8,1676.5 C262.3,1682.5 272.9,1687.9 280.0,1691.7 C287.1,1695.5 291.0,1696.7 296.5,1699.2 C302.0,1701.7 308.3,1704.1 313.1,1706.6 C317.9,1709.1 321.4,1711.7 325.5,1714.0 C329.6,1716.3 334.0,1718.8 337.9,1720.7 C341.8,1722.6 345.9,1724.4 348.6,1725.6 C351.4,1726.8 351.0,1726.9 354.4,1727.7 C357.8,1728.5 362.0,1729.5 368.7,1730.4 C375.4,1731.3 386.0,1732.5 394.6,1732.9 C403.2,1733.3 413.1,1733.5 420.4,1732.9 C427.7,1732.3 432.9,1730.6 438.5,1729.1 C444.1,1727.6 449.3,1724.9 454.0,1723.9 C458.7,1723.0 462.6,1723.2 466.9,1723.4 C471.2,1723.6 474.6,1724.2 479.8,1725.2 C485.0,1726.2 492.7,1728.2 497.9,1729.1 C503.1,1730.0 505.2,1730.5 510.8,1730.4 C516.4,1730.3 524.9,1728.9 531.4,1728.6 C537.9,1728.3 543.6,1728.0 549.5,1728.6 C555.4,1729.2 559.5,1731.7 566.9,1732.4 C574.3,1733.1 584.8,1733.1 593.7,1733.0 C602.7,1732.9 611.7,1731.6 620.6,1731.6 C629.5,1731.6 640.2,1732.1 647.4,1733.0 C654.6,1733.9 658.2,1735.8 663.6,1737.0 C669.0,1738.2 673.4,1740.0 679.7,1740.5 C686.0,1741.0 694.1,1740.3 701.2,1739.7 C708.4,1739.1 715.5,1737.8 722.6,1737.0 C729.8,1736.2 736.0,1735.4 744.1,1735.1 C752.2,1734.8 766.5,1735.1 771.0,1735.1" fill="none" stroke="#d00000" stroke-width="2.40" stroke-linejoin="round" />
<path d="M556.1,1734.3 C560.1,1734.4 572.9,1735.1 580.3,1735.1 C587.7,1735.1 593.7,1733.5 600.4,1734.3 C607.1,1735.1 613.6,1737.9 620.6,1739.7 C627.6,1741.5 635.8,1745.5 642.1,1745.1 C648.4,1744.6 652.8,1739.5 658.2,1737.0 C663.6,1734.5 669.6,1731.9 674.3,1730.3 C679.0,1728.7 681.9,1727.6 686.4,1727.6 C690.9,1727.6 695.2,1729.2 701.2,1730.3 C707.2,1731.4 715.5,1733.4 722.6,1734.3 C729.8,1735.2 736.0,1735.5 744.1,1735.7 C752.2,1735.9 766.5,1735.7 771.0,1735.7" fill="none" stroke="#3ccc3c" stroke-width="2.20" stroke-linejoin="round" />
<path d="M116.4,1741.5 C121.1,1726.8 135.2,1681.4 144.7,1653.5 C154.2,1625.6 163.7,1598.3 173.2,1574.0 C182.7,1549.7 189.8,1528.4 201.7,1507.5 C213.6,1486.6 232.5,1464.9 244.4,1448.7 C256.3,1432.5 261.2,1420.5 273.1,1410.3 C285.0,1400.1 303.8,1391.5 315.7,1387.5 C327.6,1383.5 334.8,1387.1 344.3,1386.6 C353.8,1386.1 358.3,1385.3 372.5,1384.5 C386.7,1383.7 415.4,1382.9 429.7,1381.8 C444.0,1380.7 446.6,1378.8 458.5,1378.0 C470.4,1377.2 489.1,1378.1 500.9,1377.2 C512.7,1376.3 519.8,1373.4 529.1,1372.4 C538.5,1371.4 545.1,1371.6 557.0,1371.0 C568.9,1370.4 586.1,1369.4 600.4,1368.7 C614.7,1368.0 628.7,1367.4 642.9,1366.9 C657.1,1366.4 671.5,1366.0 685.8,1365.5 C700.1,1365.0 714.4,1364.4 728.6,1364.2 C742.8,1364.0 763.9,1364.2 771.0,1364.2" fill="none" stroke="#000" stroke-width="1.00" stroke-dasharray="5,1.8" stroke-linejoin="round" />
<path d="M116.2,1742.2 C121.0,1732.8 135.2,1700.8 144.7,1686.0 C154.2,1671.2 163.7,1662.8 173.2,1653.5 C182.7,1644.2 189.8,1638.0 201.7,1630.2 C213.6,1622.4 232.5,1612.2 244.4,1606.6 C256.3,1601.0 261.2,1599.9 273.1,1596.4 C285.0,1592.9 303.9,1587.6 315.8,1585.5 C327.7,1583.4 334.9,1584.5 344.3,1584.0 C353.7,1583.5 358.1,1582.7 372.3,1582.3 C386.5,1581.9 415.0,1582.4 429.3,1581.6 C443.6,1580.8 446.4,1578.5 458.3,1577.6 C470.2,1576.7 488.8,1576.9 500.6,1576.4 C512.4,1575.9 519.7,1575.0 529.1,1574.5 C538.5,1574.0 545.1,1573.6 557.0,1573.3 C568.9,1573.0 586.0,1572.9 600.4,1572.5 C614.8,1572.1 628.9,1571.0 643.1,1571.0 C657.3,1571.0 671.6,1572.1 685.8,1572.3 C700.0,1572.5 714.0,1572.3 728.1,1572.3 C742.2,1572.3 763.3,1572.3 770.3,1572.3" fill="none" stroke="#a83030" stroke-width="1.00" stroke-dasharray="5,1.8" stroke-linejoin="round" />
<path d="M557.5,1742.0 L600.4,1741.5 L642.9,1743.4 L685.8,1740.7 L728.0,1740.2 L771.0,1740.7" fill="none" stroke="#55cc55" stroke-width="1.30" stroke-dasharray="12,9" stroke-linejoin="round" />
<rect x="109.7" y="1734.8" width="13.5" height="13.5" fill="#000"/>
<rect x="137.9" y="1646.8" width="13.5" height="13.5" fill="#000"/>
<rect x="166.4" y="1567.2" width="13.5" height="13.5" fill="#000"/>
<rect x="194.9" y="1500.8" width="13.5" height="13.5" fill="#000"/>
<rect x="237.7" y="1442.0" width="13.5" height="13.5" fill="#000"/>
<rect x="266.4" y="1403.5" width="13.5" height="13.5" fill="#000"/>
<rect x="308.9" y="1380.8" width="13.5" height="13.5" fill="#000"/>
<rect x="337.6" y="1379.8" width="13.5" height="13.5" fill="#000"/>
<rect x="365.8" y="1377.8" width="13.5" height="13.5" fill="#000"/>
<rect x="422.9" y="1375.0" width="13.5" height="13.5" fill="#000"/>
<rect x="451.8" y="1371.2" width="13.5" height="13.5" fill="#000"/>
<rect x="494.1" y="1370.5" width="13.5" height="13.5" fill="#000"/>
<rect x="522.4" y="1365.7" width="13.5" height="13.5" fill="#000"/>
<rect x="550.2" y="1364.2" width="13.5" height="13.5" fill="#000"/>
<rect x="593.6" y="1362.0" width="13.5" height="13.5" fill="#000"/>
<rect x="636.1" y="1360.2" width="13.5" height="13.5" fill="#000"/>
<rect x="679.0" y="1358.8" width="13.5" height="13.5" fill="#000"/>
<rect x="721.9" y="1357.5" width="13.5" height="13.5" fill="#000"/>
<rect x="764.2" y="1357.5" width="13.5" height="13.5" fill="#000"/>
<circle cx="116.2" cy="1742.2" r="8.0" fill="#f20000"/>
<circle cx="144.7" cy="1686.0" r="8.0" fill="#f20000"/>
<circle cx="173.2" cy="1653.5" r="8.0" fill="#f20000"/>
<circle cx="201.7" cy="1630.2" r="8.0" fill="#f20000"/>
<circle cx="244.4" cy="1606.6" r="8.0" fill="#f20000"/>
<circle cx="273.1" cy="1596.4" r="8.0" fill="#f20000"/>
<circle cx="315.8" cy="1585.5" r="8.0" fill="#f20000"/>
<circle cx="344.3" cy="1584.0" r="8.0" fill="#f20000"/>
<circle cx="372.3" cy="1582.3" r="8.0" fill="#f20000"/>
<circle cx="429.3" cy="1581.6" r="8.0" fill="#f20000"/>
<circle cx="458.3" cy="1577.6" r="8.0" fill="#f20000"/>
<circle cx="500.6" cy="1576.4" r="8.0" fill="#f20000"/>
<circle cx="529.1" cy="1574.5" r="8.0" fill="#f20000"/>
<circle cx="557.0" cy="1573.3" r="8.0" fill="#f20000"/>
<circle cx="600.4" cy="1572.5" r="8.0" fill="#f20000"/>
<circle cx="643.1" cy="1571.0" r="8.0" fill="#f20000"/>
<circle cx="685.8" cy="1572.3" r="8.0" fill="#f20000"/>
<circle cx="728.1" cy="1572.3" r="8.0" fill="#f20000"/>
<circle cx="770.3" cy="1572.3" r="8.0" fill="#f20000"/>
<path d="M557.5,1733.0 L566.5,1749.0 L548.5,1749.0 Z" fill="#1ee41e"/>
<path d="M600.4,1732.5 L609.4,1748.5 L591.4,1748.5 Z" fill="#1ee41e"/>
<path d="M642.9,1734.4 L651.9,1750.4 L633.9,1750.4 Z" fill="#1ee41e"/>
<path d="M685.8,1731.7 L694.8,1747.7 L676.8,1747.7 Z" fill="#1ee41e"/>
<path d="M728.0,1731.2 L737.0,1747.2 L719.0,1747.2 Z" fill="#1ee41e"/>
<path d="M771.0,1731.7 L780.0,1747.7 L762.0,1747.7 Z" fill="#1ee41e"/>
<path d="M102.7,1329.8 L102.7,1787.4 L828.7,1787.4 L828.7,1329.8" fill="none" stroke="#000" stroke-width="2.5" stroke-linejoin="miter" stroke-linecap="square"/>
<line x1="102.7" y1="1787.4" x2="115.0" y2="1787.4" stroke="#000" stroke-width="2.5"/>
<line x1="102.7" y1="1764.5" x2="108.2" y2="1764.5" stroke="#000" stroke-width="2.5"/>
<line x1="102.7" y1="1741.6" x2="115.0" y2="1741.6" stroke="#000" stroke-width="2.5"/>
<line x1="102.7" y1="1718.8" x2="108.2" y2="1718.8" stroke="#000" stroke-width="2.5"/>
<line x1="102.7" y1="1695.9" x2="115.0" y2="1695.9" stroke="#000" stroke-width="2.5"/>
<line x1="102.7" y1="1673.0" x2="108.2" y2="1673.0" stroke="#000" stroke-width="2.5"/>
<line x1="102.7" y1="1650.1" x2="115.0" y2="1650.1" stroke="#000" stroke-width="2.5"/>
<line x1="102.7" y1="1627.2" x2="108.2" y2="1627.2" stroke="#000" stroke-width="2.5"/>
<line x1="102.7" y1="1604.4" x2="115.0" y2="1604.4" stroke="#000" stroke-width="2.5"/>
<line x1="102.7" y1="1581.5" x2="108.2" y2="1581.5" stroke="#000" stroke-width="2.5"/>
<line x1="102.7" y1="1558.6" x2="115.0" y2="1558.6" stroke="#000" stroke-width="2.5"/>
<line x1="102.7" y1="1535.7" x2="108.2" y2="1535.7" stroke="#000" stroke-width="2.5"/>
<line x1="102.7" y1="1512.8" x2="115.0" y2="1512.8" stroke="#000" stroke-width="2.5"/>
<line x1="102.7" y1="1490.0" x2="108.2" y2="1490.0" stroke="#000" stroke-width="2.5"/>
<line x1="102.7" y1="1467.1" x2="115.0" y2="1467.1" stroke="#000" stroke-width="2.5"/>
<line x1="102.7" y1="1444.2" x2="108.2" y2="1444.2" stroke="#000" stroke-width="2.5"/>
<line x1="102.7" y1="1421.3" x2="115.0" y2="1421.3" stroke="#000" stroke-width="2.5"/>
<line x1="102.7" y1="1398.4" x2="108.2" y2="1398.4" stroke="#000" stroke-width="2.5"/>
<line x1="102.7" y1="1375.6" x2="115.0" y2="1375.6" stroke="#000" stroke-width="2.5"/>
<line x1="102.7" y1="1352.7" x2="108.2" y2="1352.7" stroke="#000" stroke-width="2.5"/>
<line x1="102.7" y1="1329.8" x2="115.0" y2="1329.8" stroke="#000" stroke-width="2.5"/>
<line x1="828.7" y1="1787.4" x2="816.2" y2="1787.4" stroke="#000" stroke-width="2.5"/>
<line x1="828.7" y1="1762.0" x2="822.7" y2="1762.0" stroke="#000" stroke-width="2.5"/>
<line x1="828.7" y1="1736.6" x2="816.2" y2="1736.6" stroke="#000" stroke-width="2.5"/>
<line x1="828.7" y1="1711.1" x2="822.7" y2="1711.1" stroke="#000" stroke-width="2.5"/>
<line x1="828.7" y1="1685.7" x2="816.2" y2="1685.7" stroke="#000" stroke-width="2.5"/>
<line x1="828.7" y1="1660.3" x2="822.7" y2="1660.3" stroke="#000" stroke-width="2.5"/>
<line x1="828.7" y1="1634.9" x2="816.2" y2="1634.9" stroke="#000" stroke-width="2.5"/>
<line x1="828.7" y1="1609.5" x2="822.7" y2="1609.5" stroke="#000" stroke-width="2.5"/>
<line x1="828.7" y1="1584.0" x2="816.2" y2="1584.0" stroke="#000" stroke-width="2.5"/>
<line x1="828.7" y1="1558.6" x2="822.7" y2="1558.6" stroke="#000" stroke-width="2.5"/>
<line x1="828.7" y1="1533.2" x2="816.2" y2="1533.2" stroke="#000" stroke-width="2.5"/>
<line x1="828.7" y1="1507.8" x2="822.7" y2="1507.8" stroke="#000" stroke-width="2.5"/>
<line x1="828.7" y1="1482.4" x2="816.2" y2="1482.4" stroke="#000" stroke-width="2.5"/>
<line x1="828.7" y1="1456.9" x2="822.7" y2="1456.9" stroke="#000" stroke-width="2.5"/>
<line x1="828.7" y1="1431.5" x2="816.2" y2="1431.5" stroke="#000" stroke-width="2.5"/>
<line x1="828.7" y1="1406.1" x2="822.7" y2="1406.1" stroke="#000" stroke-width="2.5"/>
<line x1="828.7" y1="1380.7" x2="816.2" y2="1380.7" stroke="#000" stroke-width="2.5"/>
<line x1="828.7" y1="1355.3" x2="822.7" y2="1355.3" stroke="#000" stroke-width="2.5"/>
<line x1="828.7" y1="1329.8" x2="816.2" y2="1329.8" stroke="#000" stroke-width="2.5"/>
<line x1="116.4" y1="1787.4" x2="116.4" y2="1775.2" stroke="#000" stroke-width="2.5"/>
<line x1="187.6" y1="1787.4" x2="187.6" y2="1781.4" stroke="#000" stroke-width="2.5"/>
<line x1="258.7" y1="1787.4" x2="258.7" y2="1775.2" stroke="#000" stroke-width="2.5"/>
<line x1="329.9" y1="1787.4" x2="329.9" y2="1781.4" stroke="#000" stroke-width="2.5"/>
<line x1="401.0" y1="1787.4" x2="401.0" y2="1775.2" stroke="#000" stroke-width="2.5"/>
<line x1="472.1" y1="1787.4" x2="472.1" y2="1781.4" stroke="#000" stroke-width="2.5"/>
<line x1="543.3" y1="1787.4" x2="543.3" y2="1775.2" stroke="#000" stroke-width="2.5"/>
<line x1="614.5" y1="1787.4" x2="614.5" y2="1781.4" stroke="#000" stroke-width="2.5"/>
<line x1="685.6" y1="1787.4" x2="685.6" y2="1775.2" stroke="#000" stroke-width="2.5"/>
<line x1="756.8" y1="1787.4" x2="756.8" y2="1781.4" stroke="#000" stroke-width="2.5"/>
<text class="t" transform="translate(88.5,1795.7) scale(1,1.070)" font-size="26.5" text-anchor="end" font-family="Liberation Serif, serif" >-2</text>
<text class="t" transform="translate(88.5,1749.9) scale(1,1.070)" font-size="26.5" text-anchor="end" font-family="Liberation Serif, serif" >0</text>
<text class="t" transform="translate(88.5,1704.2) scale(1,1.070)" font-size="26.5" text-anchor="end" font-family="Liberation Serif, serif" >2</text>
<text class="t" transform="translate(88.5,1658.4) scale(1,1.070)" font-size="26.5" text-anchor="end" font-family="Liberation Serif, serif" >4</text>
<text class="t" transform="translate(88.5,1612.6) scale(1,1.070)" font-size="26.5" text-anchor="end" font-family="Liberation Serif, serif" >6</text>
<text class="t" transform="translate(88.5,1566.9) scale(1,1.070)" font-size="26.5" text-anchor="end" font-family="Liberation Serif, serif" >8</text>
<text class="t" transform="translate(88.5,1521.1) scale(1,1.070)" font-size="26.5" text-anchor="end" font-family="Liberation Serif, serif" >10</text>
<text class="t" transform="translate(88.5,1475.4) scale(1,1.070)" font-size="26.5" text-anchor="end" font-family="Liberation Serif, serif" >12</text>
<text class="t" transform="translate(88.5,1429.6) scale(1,1.070)" font-size="26.5" text-anchor="end" font-family="Liberation Serif, serif" >14</text>
<text class="t" transform="translate(88.5,1383.8) scale(1,1.070)" font-size="26.5" text-anchor="end" font-family="Liberation Serif, serif" >16</text>
<text class="t" transform="translate(88.5,1338.1) scale(1,1.070)" font-size="26.5" text-anchor="end" font-family="Liberation Serif, serif" >18</text>
<text class="t" transform="translate(841.2,1796.0) scale(1,1.070)" font-size="26.5" text-anchor="start" font-family="Liberation Serif, serif" >-0.25</text>
<text class="t" transform="translate(841.2,1745.1) scale(1,1.070)" font-size="26.5" text-anchor="start" font-family="Liberation Serif, serif" >0.00</text>
<text class="t" transform="translate(841.2,1694.3) scale(1,1.070)" font-size="26.5" text-anchor="start" font-family="Liberation Serif, serif" >0.25</text>
<text class="t" transform="translate(841.2,1643.5) scale(1,1.070)" font-size="26.5" text-anchor="start" font-family="Liberation Serif, serif" >0.50</text>
<text class="t" transform="translate(841.2,1592.6) scale(1,1.070)" font-size="26.5" text-anchor="start" font-family="Liberation Serif, serif" >0.75</text>
<text class="t" transform="translate(841.2,1541.8) scale(1,1.070)" font-size="26.5" text-anchor="start" font-family="Liberation Serif, serif" >1.00</text>
<text class="t" transform="translate(841.2,1490.9) scale(1,1.070)" font-size="26.5" text-anchor="start" font-family="Liberation Serif, serif" >1.25</text>
<text class="t" transform="translate(841.2,1440.1) scale(1,1.070)" font-size="26.5" text-anchor="start" font-family="Liberation Serif, serif" >1.50</text>
<text class="t" transform="translate(841.2,1389.3) scale(1,1.070)" font-size="26.5" text-anchor="start" font-family="Liberation Serif, serif" >1.75</text>
<text class="t" transform="translate(841.2,1338.4) scale(1,1.070)" font-size="26.5" text-anchor="start" font-family="Liberation Serif, serif" >2.00</text>
<text class="t" transform="translate(116.4,1821.6) scale(1,1.040)" font-size="26.5" text-anchor="middle" font-family="Liberation Serif, serif" >0</text>
<text class="t" transform="translate(258.7,1821.6) scale(1,1.040)" font-size="26.5" text-anchor="middle" font-family="Liberation Serif, serif" >10</text>
<text class="t" transform="translate(401.0,1821.6) scale(1,1.040)" font-size="26.5" text-anchor="middle" font-family="Liberation Serif, serif" >20</text>
<text class="t" transform="translate(543.3,1821.6) scale(1,1.040)" font-size="26.5" text-anchor="middle" font-family="Liberation Serif, serif" >30</text>
<text class="t" transform="translate(685.6,1821.6) scale(1,1.040)" font-size="26.5" text-anchor="middle" font-family="Liberation Serif, serif" >40</text>
<text class="t" transform="translate(827.9,1821.6) scale(1,1.040)" font-size="26.5" text-anchor="middle" font-family="Liberation Serif, serif" >50</text>
<text class="t" transform="translate(449.6,1857.7) scale(1,1.040)" font-size="29.4" text-anchor="middle" font-family="Liberation Serif, serif" >Observation time/d</text>
<text class="t" transform="translate(50.2,1558.0) rotate(-90)" font-size="29.4" text-anchor="middle" font-family="Liberation Serif, serif">Deformation amount/cm</text>
<text class="t" transform="translate(941.8,1692.6) rotate(-90)" font-size="29.5" text-anchor="start" font-family="Liberation Serif, serif">Deformation rate/cm&#183;d<tspan font-size="18.5" dy="-15">-1</tspan></text>
<text class="t" x="264.8" y="1450.3" font-size="26.8" text-anchor="start" font-family="Liberation Serif, serif" >Deformation amount</text>
<path d="M263.9,1476.3 L329.8,1476.3" fill="none" stroke="#000" stroke-width="1.30" stroke-linejoin="round" />
<rect x="290.1" y="1469.6" width="14.0" height="14.0" fill="#000"/>
<circle cx="297.0" cy="1513.5" r="7.8" fill="#f20000"/>
<path d="M263.9,1550.4 L329.8,1550.4" fill="none" stroke="#33cc33" stroke-width="1.50" stroke-linejoin="round" />
<path d="M297.0,1541.0 L306.1,1556.6 L287.9,1556.6 Z" fill="#1ee41e"/>
<text class="t" x="348.0" y="1487.7" font-size="23.5" text-anchor="start" font-family="Liberation Serif, serif" >Two Gang Convergence</text>
<text class="t" x="348.0" y="1525.1" font-size="23.5" text-anchor="start" font-family="Liberation Serif, serif" >Roof subsidence</text>
<text class="t" x="348.0" y="1560.8" font-size="23.3" text-anchor="start" font-family="Liberation Serif, serif" >Bottom plate deformation</text>
<text class="t" x="604.5" y="1442.2" font-size="27.0" text-anchor="start" font-family="Liberation Serif, serif" >Deformation rate</text>
<path d="M604.4,1468.3 L671.3,1468.3" fill="none" stroke="#000" stroke-width="2.20" stroke-linejoin="round" />
<path d="M604.4,1505.5 L671.3,1505.5" fill="none" stroke="#d00000" stroke-width="2.40" stroke-linejoin="round" />
<path d="M604.4,1543.4 L671.3,1543.4" fill="none" stroke="#3ccc3c" stroke-width="2.20" stroke-linejoin="round" />
<text class="t" x="687.3" y="1480.0" font-size="23.6" text-anchor="start" font-family="Liberation Serif, serif" >Two Gang</text>
<text class="t" x="687.3" y="1516.1" font-size="23.6" text-anchor="start" font-family="Liberation Serif, serif" >Top plate</text>
<text class="t" x="687.3" y="1554.6" font-size="23.6" text-anchor="start" font-family="Liberation Serif, serif" >Bottom plate</text>
<text x="251.5" y="1905.6" font-size="30.0" text-anchor="start" font-family="Liberation Sans, sans-serif" >(c)</text>
<text x="300.9" y="1908.0" font-size="35.5" text-anchor="start" font-family="Liberation Sans, sans-serif" >Third measurement station</text>
</svg></body></html>
